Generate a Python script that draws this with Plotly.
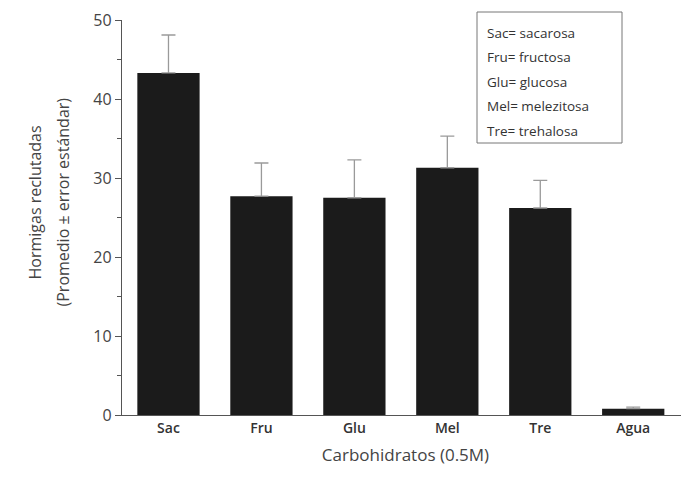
import plotly.graph_objects as go

categories = ["Sac", "Fru", "Glu", "Mel", "Tre", "Agua"]
means = [43.3, 27.7, 27.5, 31.3, 26.2, 0.8]
errors = [4.8, 4.2, 4.8, 4.0, 3.5, 0.2]
legend_lines = ["Sac= sacarosa", "Fru= fructosa", "Glu= glucosa", "Mel= melezitosa", "Tre= trehalosa"]
ytitle_lines = ["Hormigas reclutadas", "(Promedio ± error estándar)"]

# page body has an 8px offset; plot area target: x 122..689, y 20..415
W, H = 681, 480
ML, MT, MB = 114, 12, 73
PW, PH = W - ML, H - MT - MB

fig = go.Figure()
fig.add_trace(go.Bar(
    x=list(range(len(categories))), y=means,
    width=0.67,
    marker=dict(color="#1b1b1b", line=dict(width=0)),
    error_y=dict(type="data", array=errors, arrayminus=[0]*len(errors), symmetric=False,
                 color="#9a9a9a", thickness=1.3, width=7),
    showlegend=False,
))

fig.update_layout(
    width=W, height=H,
    margin=dict(l=ML, r=0, t=MT, b=MB),
    paper_bgcolor="white", plot_bgcolor="white",
    font=dict(family="Open Sans, DejaVu Sans", color="#333333"),
)
fig.update_xaxes(
    range=[-0.5, 5.6],
    tickmode="array", tickvals=list(range(len(categories))), ticktext=categories,
    showline=True, linecolor="#555555", linewidth=1.3, ticks="", showgrid=False,
    tickfont=dict(size=14, color="#333333", weight=600),
    title=dict(text="Carbohidratos (0.5M)", font=dict(size=17, color="#444444"), standoff=13),
)
fig.update_yaxes(
    range=[0, 50], tickvals=[0, 10, 20, 30, 40, 50],
    showline=True, linecolor="#555555", linewidth=1.3, ticks="outside", ticklen=6,
    tickcolor="#555555", showgrid=False, zeroline=False,
    minor=dict(tickvals=[5, 15, 25, 35, 45], ticks="outside", ticklen=4, tickcolor="#555555"),
    tickfont=dict(size=16, color="#444444"),
)

# y-axis title, two lines
for i, (line, xpx) in enumerate(zip(ytitle_lines, [34, 62])):
    fig.add_annotation(xref="paper", yref="paper", x=(xpx - 8 - ML) / PW, y=0.5 + 15 / PH,
                       xanchor="center", yanchor="middle", textangle=-90, showarrow=False,
                       text=line, font=dict(size=16, color="#444444"))

fig.add_shape(type="rect", xref="paper", yref="paper",
              x0=(477-122)/PW, x1=(622-122)/PW, y0=(415-143)/PH, y1=(415-12)/PH,
              line=dict(color="#777777", width=1), fillcolor="white")
for i, line in enumerate(legend_lines):
    ypx = 33 + i * 24.5
    fig.add_annotation(xref="paper", yref="paper", x=(485-122)/PW, y=(415-ypx)/PH,
                       xanchor="left", yanchor="middle", showarrow=False,
                       text=line, font=dict(size=13.5, color="#333333"))
fig.write_html("out.html")
